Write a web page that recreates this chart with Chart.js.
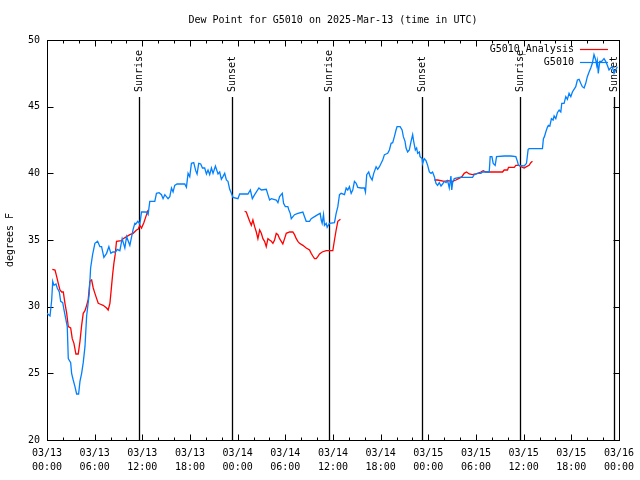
<!DOCTYPE html>
<html>
<head>
<meta charset="utf-8">
<title>Dew Point for G5010</title>
<script src="https://cdn.jsdelivr.net/npm/chart.js@4.4.1/dist/chart.umd.min.js"></script>
<style>
  html, body { margin: 0; padding: 0; background: #fff; }
  canvas { display: block; }
</style>
</head>
<body>
<canvas id="dewpoint-chart" width="640" height="480"></canvas>
<script>
const chartTitle = 'Dew Point for G5010 on 2025-Mar-13 (time in UTC)';
const yAxisLabel = 'degrees F';

// x is hours since 03/13 00:00 UTC
const xMin = 0;
const xMax = 72;
const yMin = 20;
const yMax = 50;
const xTickDates = ['03/13', '03/13', '03/13', '03/13', '03/14', '03/14', '03/14', '03/14', '03/15', '03/15', '03/15', '03/15', '03/16'];
const xTickTimes = ['00:00', '06:00', '12:00', '18:00', '00:00', '06:00', '12:00', '18:00', '00:00', '06:00', '12:00', '18:00', '00:00'];

const sunHours = [11.56, 23.25, 35.44, 47.25, 59.56, 71.38];
const sunLabels = ['Sunrise', 'Sunset', 'Sunrise', 'Sunset', 'Sunrise', 'Sunset'];
const sunLineTop = 45.7;

const analysisLabel = 'G5010_Analysis';
const analysisHours = [
    0.67, 1.01, 1.22, 1.42, 1.63, 1.85, 2.05, 2.26, 2.48, 2.68,
    2.98, 3.18, 3.39, 3.64, 3.93, 4.15, 4.36, 4.56, 4.78, 4.99,
    5.19, 5.40, 5.62, 5.82, 6.03, 6.25, 6.45, 6.66, 7.07, 7.50,
    7.70, 7.92, 8.04, 8.26, 8.42, 8.58, 8.75, 9.39, 9.59, 10.02,
    10.43, 10.84, 11.27, 11.47, 11.69, 11.90, 12.19, 12.53, 12.73, 18.00,
    24.88, 25.09, 25.30, 25.51, 25.72, 25.92, 26.14, 26.35, 26.55, 26.77,
    26.98, 27.18, 27.39, 27.60, 27.81, 28.02, 28.24, 28.44, 28.65, 28.86,
    29.07, 29.28, 29.49, 29.69, 29.91, 30.12, 30.54, 30.95, 31.16, 31.38,
    31.58, 31.79, 32.21, 32.63, 33.05, 33.26, 33.46, 33.68, 33.89, 34.09,
    34.31, 34.64, 35.15, 35.56, 35.98, 36.19, 36.40, 36.61, 36.94, 42.00,
    48.76, 49.17, 50.01, 50.43, 51.06, 51.48, 51.81, 52.23, 52.52, 52.81,
    53.15, 53.57, 53.91, 54.20, 54.62, 54.91, 55.25, 56.51, 57.35, 57.55,
    57.97, 58.10, 58.82, 59.02, 59.43, 59.65, 60.07, 60.36, 60.69, 60.90,
    61.11
];
const analysisValues = [
    32.8, 32.75, 32.25, 31.75, 31.25, 31.1, 31.1, 30.25, 29.5, 28.5,
    28.4, 27.6, 27.25, 26.45, 26.45, 27.4, 28.6, 29.5, 29.7, 30.1,
    30.55, 31.9, 32.0, 31.4, 31.0, 30.6, 30.25, 30.2, 30.1, 29.9,
    29.75, 30.25, 31.0, 32.4, 33.25, 33.9, 34.9, 34.95, 35.1, 35.25,
    35.4, 35.5, 35.75, 35.8, 36.1, 35.9, 36.3, 36.9, 37.25, null,
    37.15, 37.1, 36.75, 36.4, 36.1, 36.5, 36.0, 35.6, 35.1, 35.75,
    35.5, 35.1, 34.9, 34.5, 35.1, 35.0, 34.9, 34.75, 35.0, 35.5,
    35.4, 35.1, 34.9, 34.7, 35.1, 35.5, 35.6, 35.6, 35.4, 35.1,
    34.9, 34.75, 34.6, 34.4, 34.25, 34.0, 33.8, 33.6, 33.6, 33.75,
    33.95, 34.1, 34.2, 34.2, 34.2, 35.0, 35.75, 36.4, 36.55, null,
    39.5, 39.5, 39.4, 39.45, 39.4, 39.5, 39.6, 39.75, 40.0, 40.1,
    39.95, 39.9, 39.95, 40.0, 40.1, 40.2, 40.1, 40.1, 40.1, 40.25,
    40.25, 40.45, 40.45, 40.6, 40.6, 40.5, 40.4, 40.5, 40.6, 40.8,
    40.9
];

const stationLabel = 'G5010';
const stationHours = [
    0.00, 0.38, 0.59, 0.72, 0.88, 1.13, 1.29, 1.55, 1.72, 1.98,
    2.14, 2.39, 2.55, 2.68, 2.98, 3.10, 3.30, 3.52, 3.73, 3.98,
    4.15, 4.36, 4.56, 4.78, 4.99, 5.32, 5.49, 5.74, 6.03, 6.37,
    6.66, 6.87, 7.16, 7.50, 7.79, 8.04, 8.29, 8.63, 8.83, 9.17,
    9.46, 9.80, 10.02, 10.43, 10.84, 11.06, 11.18, 11.43, 11.69, 11.90,
    12.53, 12.73, 12.94, 13.57, 13.78, 14.11, 14.41, 14.61, 14.83, 15.24,
    15.46, 15.67, 15.87, 16.08, 16.37, 17.34, 17.55, 17.76, 17.97, 18.18,
    18.47, 18.72, 18.89, 19.10, 19.35, 19.57, 19.85, 20.07, 20.27, 20.48,
    20.70, 20.90, 21.20, 21.53, 21.74, 21.95, 22.15, 22.37, 22.58, 22.78,
    23.00, 23.21, 23.41, 24.04, 24.25, 25.30, 25.60, 25.85, 26.14, 26.68,
    26.98, 27.61, 27.81, 28.02, 28.24, 28.86, 29.07, 29.28, 29.62, 29.78,
    30.00, 30.32, 30.45, 30.62, 30.75, 31.16, 31.58, 32.21, 32.42, 32.63,
    33.05, 33.26, 33.68, 34.09, 34.39, 34.52, 34.64, 34.81, 34.93, 35.15,
    35.27, 35.56, 36.19, 36.40, 36.61, 36.82, 37.03, 37.45, 37.66, 37.86,
    38.07, 38.29, 38.49, 38.70, 38.92, 39.12, 39.55, 39.96, 40.09, 40.25,
    40.50, 40.68, 40.93, 41.13, 41.43, 41.63, 41.85, 42.06, 42.26, 42.48,
    42.69, 42.89, 43.10, 43.32, 43.52, 43.73, 43.94, 44.07, 44.45, 44.70,
    44.86, 45.07, 45.20, 45.40, 45.61, 45.83, 46.03, 46.16, 46.37, 46.53,
    46.66, 46.87, 46.96, 47.21, 47.29, 47.50, 47.71, 47.92, 48.13, 48.34,
    48.54, 48.76, 48.97, 49.17, 49.38, 49.60, 49.80, 50.01, 50.23, 50.43,
    50.64, 50.85, 50.95, 51.06, 51.27, 51.90, 53.57, 53.78, 54.20, 54.62,
    54.83, 55.67, 55.79, 56.01, 56.17, 56.42, 56.59, 57.55, 58.40, 59.02,
    59.22, 59.35, 60.07, 60.36, 60.57, 60.69, 62.37, 62.49, 62.62, 62.79,
    62.99, 63.12, 63.30, 63.50, 63.71, 63.84, 64.05, 64.25, 64.47, 64.68,
    64.80, 65.09, 65.31, 65.51, 65.72, 65.94, 66.14, 66.56, 66.77, 66.98,
    67.19, 67.39, 67.61, 67.82, 68.02, 68.24, 68.45, 68.65, 68.86, 69.08,
    69.20, 69.28, 69.40, 69.58, 69.83, 70.12, 70.33, 70.54, 70.75, 70.96,
    71.16, 71.38, 71.59, 71.79
];
const stationValues = [
    29.5, 29.3, 30.5, 31.9, 31.6, 31.7, 31.4, 31.1, 30.4, 30.3,
    29.75, 29.0, 28.5, 26.1, 25.8, 25.0, 24.5, 24.0, 23.45, 23.45,
    24.4, 25.0, 25.8, 27.0, 29.3, 31.0, 32.9, 33.9, 34.75, 34.9,
    34.5, 34.5, 33.7, 34.0, 34.5, 34.0, 34.1, 34.1, 34.3, 34.2,
    35.1, 34.4, 35.25, 34.6, 35.8, 36.25, 36.2, 36.4, 36.2, 37.1,
    37.1, 36.9, 37.9, 37.9, 38.5, 38.55, 38.4, 38.1, 38.4, 38.1,
    38.25, 38.9, 38.6, 39.1, 39.2, 39.2, 38.95, 40.0, 39.75, 40.75,
    40.8, 40.2, 39.95, 40.75, 40.7, 40.4, 40.4, 39.95, 40.25, 39.9,
    40.4, 40.0, 40.55, 39.95, 40.1, 39.55, 39.75, 40.0, 39.5, 39.4,
    38.8, 38.5, 38.2, 38.1, 38.45, 38.45, 38.75, 38.1, 38.4, 38.9,
    38.75, 38.8, 38.4, 38.0, 38.1, 38.0, 37.8, 38.25, 38.5, 37.75,
    37.5, 37.5, 37.25, 37.0, 36.6, 36.9, 37.0, 37.1, 36.75, 36.4,
    36.4, 36.6, 36.75, 36.9, 37.0, 36.5, 36.25, 36.9, 36.1, 36.25,
    35.95, 36.25, 36.3, 37.0, 37.5, 38.4, 38.5, 38.4, 38.9, 38.75,
    39.0, 38.5, 38.75, 39.4, 39.25, 38.95, 38.9, 38.9, 38.6, 39.9,
    40.1, 39.75, 39.5, 40.0, 40.5, 40.3, 40.5, 40.75, 41.0, 41.4,
    41.45, 41.5, 41.75, 42.25, 42.3, 42.75, 43.25, 43.5, 43.5, 43.25,
    42.75, 42.4, 41.9, 41.6, 41.75, 42.4, 42.9, 42.4, 41.75, 41.9,
    41.5, 41.6, 41.25, 41.1, 40.75, 41.1, 40.95, 40.6, 40.1, 40.0,
    40.1, 39.75, 39.25, 39.1, 39.3, 39.05, 39.2, 39.4, 39.3, 39.45,
    38.9, 39.8, 38.75, 39.3, 39.6, 39.7, 39.7, 39.9, 40.0, 40.0,
    40.1, 40.1, 41.25, 41.25, 40.75, 40.6, 41.25, 41.3, 41.3, 41.25,
    40.9, 40.6, 40.55, 40.75, 41.8, 41.85, 41.85, 42.6, 42.75, 43.1,
    43.45, 43.6, 43.55, 44.1, 44.0, 44.3, 44.1, 44.55, 44.75, 44.6,
    45.25, 45.25, 45.75, 45.55, 46.0, 45.75, 46.1, 46.5, 47.0, 47.05,
    46.75, 46.5, 46.4, 46.75, 47.25, 47.6, 47.9, 48.25, 48.9, 48.5,
    48.1, 48.4, 47.5, 48.4, 48.4, 48.6, 48.4, 48.1, 47.75, 47.9,
    48.0, 47.5, 47.75, 48.0
];

const FONT = "'DejaVu Sans Mono', 'Liberation Mono', monospace";

function toPoints(hours, values) {
    return hours.map((h, i) => ({ x: h, y: values[i] }));
}

// gnuplot-like frame, inward ticks, sun markers, title and legend
const gnuplotFrame = {
    id: 'gnuplotFrame',
    beforeDatasetsDraw(chart) {
        const { ctx, chartArea: a, scales: { x, y } } = chart;
        const left = Math.round(a.left) + 0.5;
        const right = Math.round(a.right) + 0.5;
        const top = Math.round(a.top) + 0.5;
        const bottom = Math.round(a.bottom) + 0.5;
        ctx.save();
        ctx.strokeStyle = '#000';
        ctx.fillStyle = '#000';
        ctx.lineWidth = 1;
        ctx.strokeRect(left, top, right - left, bottom - top);

        ctx.beginPath();
        for (let h = xMin; h <= xMax; h += 2) {
            const px = Math.round(x.getPixelForValue(h)) + 0.5;
            const len = h % 6 === 0 ? 6 : 3;
            ctx.moveTo(px, bottom); ctx.lineTo(px, bottom - len);
            ctx.moveTo(px, top); ctx.lineTo(px, top + len);
        }
        for (let v = yMin; v <= yMax; v += 5) {
            const py = Math.round(y.getPixelForValue(v)) + 0.5;
            ctx.moveTo(left, py); ctx.lineTo(left + 6, py);
            ctx.moveTo(right, py); ctx.lineTo(right - 6, py);
        }
        ctx.stroke();

        ctx.font = '10px ' + FONT;
        sunHours.forEach((h, i) => {
            const px = Math.round(x.getPixelForValue(h)) + 0.5;
            const py = Math.round(y.getPixelForValue(sunLineTop));
            ctx.lineWidth = 1.3;
            ctx.beginPath();
            ctx.moveTo(px, py);
            ctx.lineTo(px, bottom);
            ctx.stroke();
            ctx.save();
            ctx.translate(px, py - 5);
            ctx.rotate(-Math.PI / 2);
            ctx.textAlign = 'left';
            ctx.textBaseline = 'middle';
            ctx.fillText(sunLabels[i], 0, 0);
            ctx.restore();
        });

        ctx.textAlign = 'center';
        ctx.textBaseline = 'middle';
        ctx.fillText(chartTitle, (a.left + a.right) / 2, 20);

        ctx.save();
        ctx.translate(10, (a.top + a.bottom) / 2);
        ctx.rotate(-Math.PI / 2);
        ctx.fillText(yAxisLabel, 0, 0);
        ctx.restore();
        ctx.restore();
    },
    afterDatasetsDraw(chart) {
        const { ctx, chartArea: a } = chart;
        ctx.save();
        ctx.font = '10px ' + FONT;
        ctx.textAlign = 'right';
        ctx.textBaseline = 'middle';
        chart.data.datasets.forEach((ds, i) => {
            const py = Math.round(a.top) + 9 + i * 13 + 0.5;
            ctx.fillStyle = '#000';
            ctx.fillText(ds.label, a.right - 45, py);
            ctx.strokeStyle = ds.borderColor;
            ctx.lineWidth = 1.2;
            ctx.beginPath();
            ctx.moveTo(a.right - 39, py);
            ctx.lineTo(a.right - 11, py);
            ctx.stroke();
        });
        ctx.restore();
    }
};

function createChart() {
    const ctx = document.getElementById('dewpoint-chart').getContext('2d');
    new Chart(ctx, {
        type: 'line',
        data: {
            datasets: [
                {
                    label: analysisLabel,
                    data: toPoints(analysisHours, analysisValues),
                    borderColor: '#ff0000',
                    borderWidth: 1.3,
                    pointRadius: 0,
                    tension: 0,
                    spanGaps: false,
                    order: 1
                },
                {
                    label: stationLabel,
                    data: toPoints(stationHours, stationValues),
                    borderColor: '#0080ff',
                    borderWidth: 1.3,
                    pointRadius: 0,
                    tension: 0,
                    order: 0
                }
            ]
        },
        options: {
            responsive: false,
            animation: false,
            devicePixelRatio: 1,
            layout: { padding: { top: 40, right: 20, left: 0, bottom: 0 } },
            plugins: {
                legend: { display: false },
                title: { display: false },
                tooltip: { enabled: false }
            },
            scales: {
                x: {
                    type: 'linear',
                    min: xMin,
                    max: xMax,
                    grid: { display: false, drawTicks: false },
                    border: { display: false },
                    ticks: {
                        stepSize: 6,
                        autoSkip: false,
                        maxRotation: 0,
                        padding: 6,
                        color: '#000',
                        font: { family: FONT, size: 10, lineHeight: 1.4 },
                        callback: v => {
                            const i = Math.round(v / 6);
                            return [xTickDates[i], xTickTimes[i]];
                        }
                    },
                    afterFit: s => { s.height = 40; }
                },
                y: {
                    min: yMin,
                    max: yMax,
                    grid: { display: false, drawTicks: false },
                    border: { display: false },
                    ticks: {
                        stepSize: 5,
                        padding: 7,
                        color: '#000',
                        font: { family: FONT, size: 10 }
                    },
                    afterFit: s => { s.width = 47; }
                }
            }
        },
        plugins: [gnuplotFrame]
    });
}

document.addEventListener('DOMContentLoaded', createChart);
</script>
</body>
</html>
